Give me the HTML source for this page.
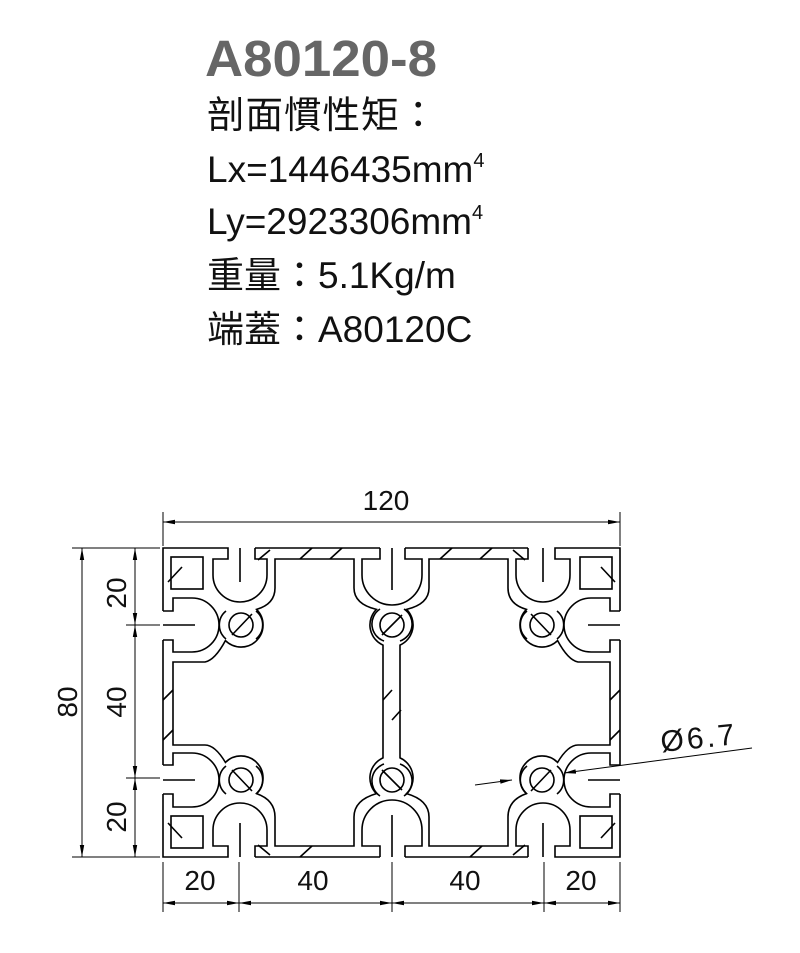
<!DOCTYPE html>
<html><head><meta charset="utf-8"><style>
body{margin:0;background:#fff;width:800px;height:953px;overflow:hidden}
svg{display:block}
</style></head><body>
<svg width="800" height="953" viewBox="0 0 800 953" xmlns="http://www.w3.org/2000/svg">
<g font-family="Liberation Sans, 'Noto Sans CJK TC', sans-serif">
<text x="205" y="76" font-size="51" font-weight="bold" fill="#666" textLength="232" lengthAdjust="spacingAndGlyphs">A80120-8</text>
<text x="207" y="128" font-size="37.5" fill="#111" letter-spacing="1">剖面慣性矩：</text>
<text x="207" y="182" font-size="37" fill="#111">Lx=1446435mm<tspan font-size="20" dy="-15">4</tspan></text>
<text x="207" y="234" font-size="37" fill="#111">Ly=2923306mm<tspan font-size="20" dy="-15">4</tspan></text>
<text x="207" y="288" font-size="37" fill="#111">重量：5.1Kg/m</text>
<text x="207" y="342" font-size="37" fill="#111">端蓋：A80120C</text>
</g>
<defs>
<marker id="ar" markerWidth="12" markerHeight="6" refX="12" refY="3" orient="auto" markerUnits="userSpaceOnUse">
<path d="M0,0.8 L12,3 L0,5.2 Z" fill="#000"/></marker>
<g id="corner">
<path d="M163,611 V548 H228 V559 H213 V575 A27,27 0 0 0 267,575 V559 H255 V548" />
<path d="M163,611 H173 V598 H192 A27,27 0 0 1 192,652 H173 V640 H163" />
<rect x="171" y="557" width="32" height="32"/>
<line x1="240" y1="548" x2="240" y2="582"/>
<line x1="163" y1="625" x2="195" y2="625"/>
<circle cx="241" cy="625" r="12"/>
<path d="M226,611 A18,18 0 0 0 226,639 M256,611 A18,18 0 0 1 256,639"/>
<line x1="232" y1="635" x2="252" y2="614"/>
<line x1="168" y1="582" x2="182" y2="567"/>
<line x1="258" y1="560" x2="270" y2="550"/>
</g>
<g id="center">
<path d="M380,548 V559 H362 V575 A30,30 0 0 0 422,575 V559 H405 V548"/>
<line x1="392" y1="548" x2="392" y2="590"/>
<circle cx="392" cy="625" r="12"/>
<path d="M380,609 A18,18 0 0 0 384,641 M404,609 A18,18 0 0 1 400,641"/>
<line x1="382" y1="635" x2="402" y2="615"/>
</g>
<path id="cav" d="M275,559 H354 V588 Q354,604 376.4,609.4 A22,22 0 0 0 383,645.1 V757.9 A22,22 0 0 0 376.4,793.6 Q354,800 354,817 V846 H275 V817 Q275,800 256.6,793.6 A22,22 0 0 0 225.4,762.4 Q215,745 205,745 H173 V662 H205 Q215,660 225.4,640.6 A22,22 0 0 0 256.6,609.4 Q275,604 275,588 Z"/>
</defs>
<g fill="none" stroke="#000" stroke-width="1.6">
<use href="#corner"/>
<use href="#corner" transform="translate(783,0) scale(-1,1)"/>
<use href="#corner" transform="translate(0,1405) scale(1,-1)"/>
<use href="#corner" transform="translate(783,1405) scale(-1,-1)"/>
<use href="#center"/>
<use href="#center" transform="translate(0,1405) scale(1,-1)"/>
<use href="#cav"/>
<use href="#cav" transform="translate(783,0) scale(-1,1)"/>
<path d="M255,548 H380 M405,548 H528 M255,857 H380 M405,857 H528 M163,640 V765 M620,640 V765"/>
<path d="M300,559 L312,548 M330,559 L342,548 M440,559 L452,548 M480,559 L492,548 M300,857 L312,846 M470,857 L482,846 M163,700 L173,690 M163,740 L173,730 M610,700 L620,690 M610,740 L620,730 M383,700 L392,690 M392,720 L401,710"/>
</g>
<g stroke="#000" stroke-width="1" fill="none">
<line x1="163" y1="512" x2="163" y2="546"/><line x1="620" y1="512" x2="620" y2="546"/>
<line x1="163" y1="522" x2="620" y2="522" marker-end="url(#ar)"/>
<line x1="620" y1="522" x2="163" y2="522" marker-end="url(#ar)"/>
<line x1="72" y1="548" x2="160" y2="548"/><line x1="72" y1="857" x2="160" y2="857"/>
<line x1="82" y1="548" x2="82" y2="857" marker-end="url(#ar)"/>
<line x1="82" y1="857" x2="82" y2="548" marker-end="url(#ar)"/>
<line x1="126" y1="625" x2="160" y2="625"/><line x1="126" y1="778" x2="160" y2="778"/>
<line x1="135" y1="548" x2="135" y2="625" marker-end="url(#ar)"/>
<line x1="135" y1="625" x2="135" y2="548" marker-end="url(#ar)"/>
<line x1="135" y1="625" x2="135" y2="778" marker-end="url(#ar)"/>
<line x1="135" y1="778" x2="135" y2="625" marker-end="url(#ar)"/>
<line x1="135" y1="778" x2="135" y2="857" marker-end="url(#ar)"/>
<line x1="135" y1="857" x2="135" y2="778" marker-end="url(#ar)"/>
<line x1="163" y1="862" x2="163" y2="912"/><line x1="239" y1="862" x2="239" y2="912"/>
<line x1="392" y1="862" x2="392" y2="912"/><line x1="544" y1="862" x2="544" y2="912"/>
<line x1="620" y1="862" x2="620" y2="912"/>
<line x1="163" y1="903" x2="239" y2="903" marker-end="url(#ar)"/><line x1="239" y1="903" x2="163" y2="903" marker-end="url(#ar)"/>
<line x1="239" y1="903" x2="392" y2="903" marker-end="url(#ar)"/><line x1="392" y1="903" x2="239" y2="903" marker-end="url(#ar)"/>
<line x1="392" y1="903" x2="544" y2="903" marker-end="url(#ar)"/><line x1="544" y1="903" x2="392" y2="903" marker-end="url(#ar)"/>
<line x1="544" y1="903" x2="620" y2="903" marker-end="url(#ar)"/><line x1="620" y1="903" x2="544" y2="903" marker-end="url(#ar)"/>
<line x1="752" y1="748" x2="564" y2="773" marker-end="url(#ar)"/>
<line x1="475" y1="785" x2="512" y2="780" marker-end="url(#ar)"/>
</g>
<g font-family="Liberation Sans, sans-serif" font-size="28" fill="#111" text-anchor="middle">
<text x="386" y="510">120</text>
<text x="200" y="890">20</text><text x="313" y="890">40</text>
<text x="465" y="890">40</text><text x="581" y="890">20</text>
<text transform="translate(77,702) rotate(-90)">80</text>
<text transform="translate(126,593) rotate(-90)">20</text>
<text transform="translate(126,702) rotate(-90)">40</text>
<text transform="translate(126,817) rotate(-90)">20</text>
<text x="700" y="748" font-family="Liberation Sans, sans-serif" font-size="30" letter-spacing="3" transform="rotate(-6 700 748)">Ø6.7</text>
</g>
</svg>
</body></html>
